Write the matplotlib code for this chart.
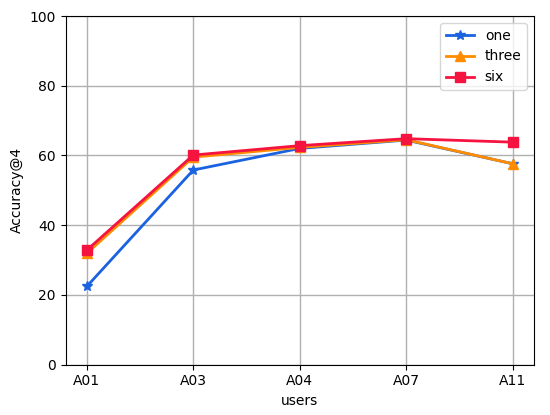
import matplotlib
matplotlib.use("Agg")
import matplotlib.pyplot as plt

users = ["A01", "A03", "A04", "A07", "A11"]
one = [22.4, 55.8, 62.0, 64.4, 57.6]
three = [31.9, 59.5, 62.3, 64.5, 57.6]
six = [32.8, 60.1, 62.8, 64.8, 63.8]

fig = plt.figure(figsize=(5.5, 4.15), dpi=100)
ax = fig.add_axes([65.5/550, 1-364.5/415, (534-65.5)/550, (364.5-16)/415])
x = list(range(len(users)))
ax.plot(x, one, color="#1a62e0", marker="*", markersize=7, linewidth=2, label="one")
ax.plot(x, three, color="#ff8c00", marker="^", markersize=7, linewidth=2, label="three")
ax.plot(x, six, color="#f5133f", marker="s", markersize=7, linewidth=2, label="six")
ax.set_xticks(x)
ax.set_xticklabels(users)
ax.set_ylim(0, 100)
ax.grid(True, linewidth=1)
ax.set_xlabel("users")
ax.set_ylabel("Accuracy@4")
ax.legend(loc="upper right")
fig.savefig("out.png", dpi=100)
